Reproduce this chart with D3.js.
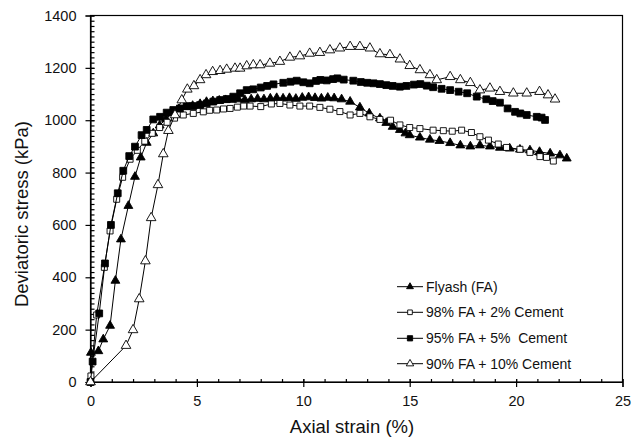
<!DOCTYPE html>
<html>
<head>
<meta charset="utf-8">
<script src="https://cdn.jsdelivr.net/npm/d3@7"></script>
<style>
  body { margin: 0; background: #fff; }
  svg { display: block; font-family: "Liberation Sans", Arial, sans-serif; }
</style>
</head>
<body>
<svg id="chart" width="644" height="442"></svg>
<script>
// axial strain (%), deviatoric stress (kPa)
var flyash = [[0,0],[0.02,112],[0.37,118],[0.6,163],[0.92,215],[1.17,387],[1.43,545],[1.78,673],[2.09,784],[2.36,858],[2.64,914],[2.95,950],[3.25,980],[3.55,1005],[3.85,1028],[4.15,1042],[4.45,1050],[4.8,1055],[5.15,1062],[5.45,1070],[5.75,1073],[6.05,1075],[6.35,1077],[6.65,1078],[6.95,1080],[7.25,1078],[7.55,1080],[7.85,1082],[8.15,1080],[8.45,1083],[8.75,1085],[9.05,1083],[9.35,1085],[9.65,1082],[9.95,1086],[10.25,1088],[10.55,1085],[10.85,1083],[11.15,1086],[11.45,1084],[11.8,1080],[12.2,1071],[12.66,1049],[13.1,1026],[13.6,1007],[13.9,990],[14.2,975],[14.54,963],[14.8,950],[15.0,943],[15.48,934],[15.95,926],[16.4,921],[16.9,913],[17.38,904],[17.85,900],[18.3,904],[18.77,900],[19.24,895],[19.7,892],[20.18,888],[20.65,885],[21.1,879],[21.6,873],[22.06,866],[22.38,854]];

var cement2 = [[0,0],[0.02,23],[0.29,256],[0.65,438],[0.92,577],[1.23,698],[1.51,782],[1.86,851],[2.2,885],[2.55,920],[2.9,950],[3.25,972],[3.6,992],[3.95,1008],[4.36,1020],[4.83,1026],[5.3,1032],[5.6,1038],[5.93,1039],[6.25,1043],[6.56,1045],[6.9,1050],[7.2,1054],[7.5,1054],[8.0,1052],[8.5,1062],[8.9,1064],[9.37,1058],[9.84,1054],[10.3,1054],[10.78,1049],[11.25,1042],[11.72,1033],[12.2,1020],[12.66,1026],[13.13,1013],[13.6,1003],[14.1,1000],[14.54,982],[15.0,972],[15.48,968],[16.1,962],[16.58,960],[17.0,958],[17.44,962],[17.9,953],[18.3,937],[18.7,924],[19.16,909],[19.55,896],[20.18,889],[20.65,877],[21.12,861],[21.43,858],[21.75,844]];

var cement5 = [[0,0],[0.1,78],[0.41,262],[0.68,453],[0.96,600],[1.28,721],[1.54,807],[1.82,863],[2.09,899],[2.4,943],[2.64,963],[2.95,1003],[3.27,1013],[3.58,1029],[3.89,1039],[4.2,1045],[4.52,1054],[4.83,1054],[5.15,1058],[5.46,1064],[5.77,1071],[6.09,1077],[6.4,1081],[6.71,1090],[7.03,1103],[7.34,1115],[7.65,1118],[8.0,1125],[8.3,1131],[8.6,1137],[9.06,1143],[9.4,1147],[9.69,1151],[10.0,1145],[10.3,1141],[10.6,1150],[10.8,1154],[11.1,1152],[11.4,1157],[11.6,1160],[11.9,1155],[12.35,1151],[12.7,1146],[13.0,1143],[13.3,1141],[13.6,1138],[13.9,1134],[14.2,1131],[14.54,1128],[14.85,1131],[15.2,1136],[15.5,1138],[15.8,1132],[16.1,1126],[16.5,1120],[16.9,1115],[17.3,1109],[17.7,1103],[18.15,1090],[18.6,1080],[18.9,1073],[19.24,1067],[19.6,1045],[19.95,1032],[20.2,1026],[20.5,1020],[20.97,1013],[21.2,1010],[21.36,1001]];

var cement10 = [[0,0],[1.67,139],[2.0,199],[2.29,317],[2.58,462],[2.85,627],[3.17,753],[3.42,871],[3.66,960],[3.97,1020],[4.29,1077],[4.55,1118],[4.86,1131],[5.15,1154],[5.43,1173],[5.74,1185],[6.09,1189],[6.4,1194],[6.79,1198],[7.03,1198],[7.34,1207],[7.65,1211],[7.97,1211],[8.43,1217],[8.9,1224],[9.37,1240],[9.84,1245],[10.3,1255],[10.78,1258],[11.25,1268],[11.72,1275],[12.2,1281],[12.66,1281],[13.13,1275],[13.6,1253],[14.07,1250],[14.54,1233],[15.0,1208],[15.48,1192],[15.95,1173],[16.27,1154],[16.9,1166],[17.38,1154],[17.85,1143],[18.3,1115],[18.77,1122],[19.24,1109],[19.87,1103],[20.5,1103],[21.1,1109],[21.5,1096],[21.83,1080]];

var seriesNames = ["Flyash (FA)", "98% FA + 2% Cement", "95% FA + 5%\u00a0 Cement", "90% FA + 10% Cement"];
var xTicks = [0, 5, 10, 15, 20, 25];
var yTicks = [0, 200, 400, 600, 800, 1000, 1200, 1400];

var margin = {top: 15.5, right: 21.5, bottom: 60, left: 90.5};
var W = 644, H = 442;
var svg = d3.select("#chart");

var x = d3.scaleLinear().domain([0, 25]).range([margin.left, W - margin.right]);
var y = d3.scaleLinear().domain([0, 1400]).range([H - margin.bottom, margin.top]);

// frame
svg.append("rect")
    .attr("x", x(0)).attr("y", y(1400))
    .attr("width", x(25) - x(0)).attr("height", y(0) - y(1400))
    .style("fill", "none").style("stroke", "#000").style("stroke-width", "1.2px");

// x axis: majors crossing, minor ticks inside
svg.append("g")
    .attr("transform", "translate(0," + y(0) + ")")
    .call(d3.axisBottom(x).tickValues(d3.range(0, 26, 1)).tickSize(-3).tickFormat(""))
    .call(function(g){ g.select(".domain").remove(); });
var gx = svg.append("g")
    .attr("transform", "translate(0," + y(0) + ")")
    .call(d3.axisBottom(x).tickValues(xTicks).tickSize(5).tickPadding(9).tickFormat(d3.format("d")));
gx.selectAll(".tick line").attr("y1", -3);

// y axis
svg.append("g")
    .attr("transform", "translate(" + x(0) + ",0)")
    .call(d3.axisLeft(y).tickValues(d3.range(0, 1401, 20)).tickSize(-4).tickFormat(""))
    .call(function(g){ g.select(".domain").remove(); });
var gy = svg.append("g")
    .attr("transform", "translate(" + x(0) + ",0)")
    .call(d3.axisLeft(y).tickValues(yTicks).tickSize(5).tickPadding(9).tickFormat(d3.format("d")));
gy.selectAll(".tick line").attr("x1", 4);

svg.selectAll(".tick text")
    .style("font-family", "'Liberation Sans', Arial, sans-serif")
    .style("font-size", "14.5px")
    .style("fill", "#111");
svg.selectAll(".domain, .tick line").style("stroke", "#000").style("stroke-width", "1.2px");

// axis titles
svg.append("text")
    .attr("x", 352).attr("y", 433)
    .attr("text-anchor", "middle")
    .style("font-size", "18.5px").style("fill", "#111")
    .text("Axial strain (%)");
svg.append("text")
    .attr("transform", "translate(28,214) rotate(-90)")
    .attr("text-anchor", "middle")
    .style("font-size", "18.5px").style("fill", "#111")
    .text("Deviatoric stress (kPa)");

var line = d3.line().x(function(d){ return x(d[0]); }).y(function(d){ return y(d[1]); });

var triangle = d3.symbol().type(d3.symbolTriangle);
var square = d3.symbol().type(d3.symbolSquare);

var series = [
    {data: flyash, shape: triangle, size: 34, fill: "#000"},
    {data: cement2, shape: square, size: 36, fill: "#fff"},
    {data: cement5, shape: square, size: 46, fill: "#000"},
    {data: cement10, shape: triangle, size: 40, fill: "#fff"}
];

series.forEach(function(s){
    svg.append("path")
        .datum(s.data)
        .attr("d", line)
        .style("fill", "none")
        .style("stroke", "#000")
        .style("stroke-width", "1px");
    svg.append("g").selectAll("path")
        .data(s.data)
        .enter().append("path")
        .attr("d", s.shape.size(s.size))
        .attr("transform", function(d){ return "translate(" + x(d[0]) + "," + y(d[1]) + ")"; })
        .style("fill", s.fill)
        .style("stroke", "#000")
        .style("stroke-width", "0.9px");
});

// legend
var legendY = [286.7, 312.3, 338.3, 363.7];
series.forEach(function(s, i){
    var g = svg.append("g").attr("transform", "translate(397," + legendY[i] + ")");
    g.append("line").attr("x1", 0).attr("x2", 26).attr("y1", 0).attr("y2", 0)
        .style("stroke", "#000").style("stroke-width", "1px");
    g.append("path").attr("d", s.shape.size(s.size * 0.6))
        .attr("transform", "translate(13,0)")
        .style("fill", s.fill).style("stroke", "#000").style("stroke-width", "0.9px");
    g.append("text").attr("x", 29).attr("y", 5)
        .style("font-size", "14px").style("fill", "#111")
        .text(seriesNames[i]);
});
</script>
</body>
</html>
